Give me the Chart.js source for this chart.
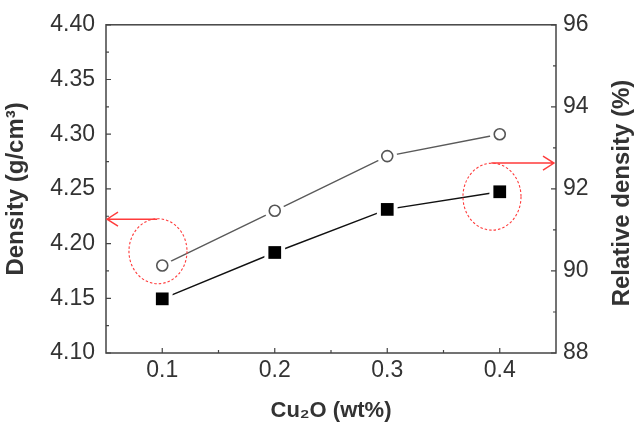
<!DOCTYPE html>
<html>
<head>
<meta charset="utf-8">
<script src="https://cdn.jsdelivr.net/npm/chart.js@4/dist/chart.umd.min.js"></script>
<style>
  html, body { margin: 0; padding: 0; background: #ffffff; }
  #wrap { width: 639px; height: 428px; }
</style>
</head>
<body>
<div id="wrap"><canvas id="c" width="639" height="428"></canvas></div>
<script>
// ---- data ----
const cu2oContent = [0.1, 0.2, 0.3, 0.4];             // x, wt%
const density = [4.18, 4.23, 4.28, 4.30];             // g/cm3, left axis (open circles)
const relativeDensity = [89.32, 90.45, 91.50, 91.93]; // %, right axis (filled squares)
const xTicks = [0.1, 0.2, 0.3, 0.4];
const leftTicks = [4.10, 4.15, 4.20, 4.25, 4.30, 4.35, 4.40];
const rightTicks = [88, 90, 92, 94, 96];
const xTitle = 'Cu\u2082O (wt%)';
const leftTitle = 'Density (g/cm\u00B3)';
const rightTitle = 'Relative density (%)';

// annotation marks (data units): dashed ellipse + arrow pointing to the axis the series uses
const annotations = [
  { axis: 'yL', cx: 0.0962, cy: 4.193, rx: 0.0258, ry: 0.0297, arrowY: 4.2223, arrowFrom: 0.0955, dir: 'left' },
  { axis: 'yR', cx: 0.3931, cy: 91.81, rx: 0.0258, ry: 0.816, arrowY: 92.63, arrowFrom: 0.3925, dir: 'right' }
];

const TEXT = '#333333';
const FRAME = '#444444';
const RED = '#ff3b3b';

// white halo round every marker so that the connecting lines stop short of it
const haloPlugin = {
  id: 'haloPlugin',
  afterDatasetDraw(chart, args) {
    const { ctx } = chart;
    const meta = args.meta;
    ctx.save();
    ctx.fillStyle = '#ffffff';
    meta.data.forEach(p => {
      const r = p.options.radius;
      ctx.beginPath();
      if (p.options.pointStyle === 'rect') {
        const h = Math.SQRT1_2 * r + 4;
        ctx.rect(p.x - h, p.y - h, 2 * h, 2 * h);
      } else {
        ctx.arc(p.x, p.y, r + 4.5, 0, Math.PI * 2);
      }
      ctx.fill();
    });
    ctx.restore();
    meta.data.forEach(p => p.draw(ctx, chart.chartArea));
  }
};

const framePlugin = {
  id: 'framePlugin',
  afterDatasetsDraw(chart) {
    const { ctx, chartArea: a, scales } = chart;
    const x = scales.x, yL = scales.yL, yR = scales.yR;
    ctx.save();
    // frame
    ctx.strokeStyle = FRAME;
    ctx.lineWidth = 1.5;
    ctx.strokeRect(a.left, a.top, a.right - a.left, a.bottom - a.top);
    // ticks (inward)
    ctx.lineWidth = 1.2;
    ctx.beginPath();
    xTicks.forEach((v, i) => {
      const px = x.getPixelForValue(v);
      ctx.moveTo(px, a.bottom); ctx.lineTo(px, a.bottom - 5);
      if (i < xTicks.length - 1) {
        const pm = x.getPixelForValue((v + xTicks[i + 1]) / 2);
        ctx.moveTo(pm, a.bottom); ctx.lineTo(pm, a.bottom - 3);
      }
    });
    leftTicks.forEach((v, i) => {
      const py = yL.getPixelForValue(v);
      ctx.moveTo(a.left, py); ctx.lineTo(a.left + 5, py);
      if (i < leftTicks.length - 1) {
        const pm = yL.getPixelForValue((v + leftTicks[i + 1]) / 2);
        ctx.moveTo(a.left, pm); ctx.lineTo(a.left + 3, pm);
      }
    });
    rightTicks.forEach((v, i) => {
      const py = yR.getPixelForValue(v);
      ctx.moveTo(a.right, py); ctx.lineTo(a.right - 5, py);
      if (i < rightTicks.length - 1) {
        const pm = yR.getPixelForValue((v + rightTicks[i + 1]) / 2);
        ctx.moveTo(a.right, pm); ctx.lineTo(a.right - 3, pm);
      }
    });
    ctx.stroke();

    // annotations
    annotations.forEach(an => {
      const ys = scales[an.axis];
      const cx = x.getPixelForValue(an.cx);
      const cy = ys.getPixelForValue(an.cy);
      const rx = Math.abs(x.getPixelForValue(an.cx + an.rx) - cx);
      const ry = Math.abs(ys.getPixelForValue(an.cy + an.ry) - cy);
      ctx.strokeStyle = RED;
      ctx.lineWidth = 1.1;
      ctx.setLineDash([2.5, 2]);
      ctx.beginPath();
      ctx.ellipse(cx, cy, rx, ry, 0, 0, Math.PI * 2);
      ctx.stroke();
      ctx.setLineDash([]);
      const ay = ys.getPixelForValue(an.arrowY);
      const ax0 = x.getPixelForValue(an.arrowFrom);
      const ax1 = an.dir === 'left' ? a.left + 1 : a.right - 2;
      const s = an.dir === 'left' ? 1 : -1;
      ctx.lineWidth = 1.4;
      ctx.beginPath();
      ctx.moveTo(ax0, ay); ctx.lineTo(ax1, ay);
      ctx.moveTo(ax1 + s * 11, ay - 7); ctx.lineTo(ax1, ay); ctx.lineTo(ax1 + s * 11, ay + 7);
      ctx.stroke();
    });

    // right axis title (reads bottom-to-top)
    ctx.fillStyle = TEXT;
    ctx.font = 'bold 24px "Liberation Sans", Arial, sans-serif';
    ctx.textAlign = 'center';
    ctx.textBaseline = 'middle';
    ctx.translate(622, 193);
    ctx.rotate(-Math.PI / 2);
    ctx.fillText(rightTitle, 0, 0);
    ctx.restore();
  }
};

const tickFont = { family: '"Liberation Sans", Arial, sans-serif', size: 23 };

new Chart(document.getElementById('c'), {
  type: 'line',
  data: {
    datasets: [
      {
        label: 'Density',
        data: cu2oContent.map((v, i) => ({ x: v, y: density[i] })),
        yAxisID: 'yL',
        borderColor: '#5a5a5a',
        borderWidth: 1.4,
        pointStyle: 'circle',
        pointRadius: 5.5,
        pointBorderWidth: 1.6,
        pointBorderColor: '#555555',
        pointBackgroundColor: '#ffffff',
        fill: false,
        tension: 0
      },
      {
        label: 'Relative density',
        data: cu2oContent.map((v, i) => ({ x: v, y: relativeDensity[i] })),
        yAxisID: 'yR',
        borderColor: '#111111',
        borderWidth: 1.4,
        pointStyle: 'rect',
        pointRadius: 9,
        pointBorderWidth: 0,
        pointBackgroundColor: '#000000',
        fill: false,
        tension: 0
      }
    ]
  },
  options: {
    responsive: false,
    devicePixelRatio: 1,
    animation: false,
    events: [],
    layout: { padding: { top: 19, left: 0, right: 0, bottom: 0 } },
    plugins: { legend: { display: false }, tooltip: { enabled: false } },
    scales: {
      x: {
        type: 'linear',
        position: 'bottom',
        min: 0.05,
        max: 0.45,
        afterBuildTicks: s => { s.ticks = xTicks.map(v => ({ value: v })); },
        afterFit: s => { s.height = 75; },
        grid: { display: false, drawTicks: false },
        border: { display: false },
        ticks: { font: tickFont, color: TEXT, padding: 4, maxRotation: 0, callback: v => Number(v).toFixed(1) },
        title: { display: true, text: xTitle, color: TEXT, font: { family: '"Liberation Sans", Arial, sans-serif', size: 22, weight: 'bold' }, padding: { top: 0, bottom: 4 } }
      },
      yL: {
        type: 'linear',
        position: 'left',
        min: 4.10,
        max: 4.40,
        afterBuildTicks: s => { s.ticks = leftTicks.map(v => ({ value: v })); },
        afterFit: s => { s.width = 106; },
        grid: { display: false, drawTicks: false },
        border: { display: false },
        ticks: { font: tickFont, color: TEXT, padding: 11, callback: v => Number(v).toFixed(2) },
        title: { display: true, text: leftTitle, color: TEXT, font: { family: '"Liberation Sans", Arial, sans-serif', size: 24, weight: 'bold' }, padding: { top: 2, bottom: 0 } }
      },
      yR: {
        type: 'linear',
        position: 'right',
        min: 88,
        max: 96,
        afterBuildTicks: s => { s.ticks = rightTicks.map(v => ({ value: v })); },
        afterFit: s => { s.width = 83; },
        grid: { display: false, drawTicks: false },
        border: { display: false },
        ticks: { font: tickFont, color: TEXT, padding: 7, callback: v => String(v) }
      }
    }
  },
  plugins: [haloPlugin, framePlugin]
});
</script>
</body>
</html>
